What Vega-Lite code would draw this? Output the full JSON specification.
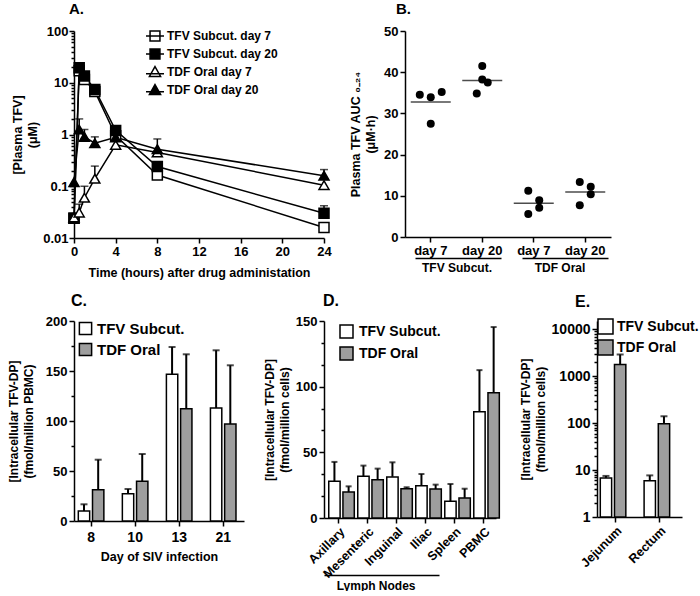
{
  "$schema": "https://vega.github.io/schema/vega-lite/v6.json",
  "padding": {"left": 7, "top": 2, "right": 0, "bottom": 0},
  "config": {
    "font": "Liberation Sans",
    "view": {"stroke": null},
    "axis": {"grid": false, "domainColor": "black", "tickColor": "black", "labelColor": "black", "titleColor": "black", "labelFontWeight": "bold", "titleFontWeight": "bold", "domainWidth": 1.5, "tickWidth": 1.5, "labelFontSize": 13, "titleFontSize": 12.5, "tickSize": 5, "labelPadding": 2, "labelFont": "Liberation Sans", "titleFont": "Liberation Sans", "labelOverlap": false, "labelBound": false, "titleLineHeight": 15},
    "legend": {"labelFontWeight": "bold", "labelColor": "black", "labelFont": "Liberation Sans"},
    "title": {"fontWeight": "bold", "anchor": "start", "frame": "group", "color": "black", "font": "Liberation Sans"}
  },
  "spacing": 14,
  "resolve": {"scale": {"fill": "independent", "shape": "independent"}, "legend": {"fill": "independent", "shape": "independent"}},
  "vconcat": [
    {
      "spacing": 17,
      "resolve": {"scale": {"fill": "independent", "shape": "independent"}, "legend": {"fill": "independent", "shape": "independent"}},
      "hconcat": [
        {
          "width": 250, "height": 207,
          "title": {"text": "A.", "fontSize": 15, "dx": -5, "offset": 8},
          "data": {"values": [
            {"series": "TFV Subcut. day 7", "t": 0, "v": 0.024},
            {"series": "TFV Subcut. day 7", "t": 0.5, "v": 17},
            {"series": "TFV Subcut. day 7", "t": 1, "v": 11.5},
            {"series": "TFV Subcut. day 7", "t": 2, "v": 6.8},
            {"series": "TFV Subcut. day 7", "t": 4, "v": 0.95},
            {"series": "TFV Subcut. day 7", "t": 8, "v": 0.165},
            {"series": "TFV Subcut. day 7", "t": 24, "v": 0.016},
            {"series": "TFV Subcut. day 20", "t": 0, "v": 0.024},
            {"series": "TFV Subcut. day 20", "t": 0.5, "v": 19.5},
            {"series": "TFV Subcut. day 20", "t": 1, "v": 13.5},
            {"series": "TFV Subcut. day 20", "t": 2, "v": 7.4},
            {"series": "TFV Subcut. day 20", "t": 4, "v": 1.2, "hi": 1.4},
            {"series": "TFV Subcut. day 20", "t": 8, "v": 0.24, "hi": 0.28},
            {"series": "TFV Subcut. day 20", "t": 24, "v": 0.03, "hi": 0.042},
            {"series": "TDF Oral day 7", "t": 0, "v": 0.025},
            {"series": "TDF Oral day 7", "t": 0.5, "v": 0.031, "hi": 0.045},
            {"series": "TDF Oral day 7", "t": 1, "v": 0.06, "hi": 0.1},
            {"series": "TDF Oral day 7", "t": 2, "v": 0.14, "hi": 0.245},
            {"series": "TDF Oral day 7", "t": 4, "v": 0.63},
            {"series": "TDF Oral day 7", "t": 8, "v": 0.45},
            {"series": "TDF Oral day 7", "t": 24, "v": 0.105},
            {"series": "TDF Oral day 20", "t": 0, "v": 0.12},
            {"series": "TDF Oral day 20", "t": 0.5, "v": 1.25, "hi": 2.0},
            {"series": "TDF Oral day 20", "t": 1, "v": 0.9, "hi": 1.25},
            {"series": "TDF Oral day 20", "t": 2, "v": 0.68, "hi": 0.9},
            {"series": "TDF Oral day 20", "t": 4, "v": 0.88},
            {"series": "TDF Oral day 20", "t": 8, "v": 0.52, "hi": 0.82},
            {"series": "TDF Oral day 20", "t": 24, "v": 0.16, "hi": 0.21}
          ]},
          "encoding": {
            "x": {"field": "t", "type": "quantitative", "scale": {"domain": [0, 24], "nice": false}, "axis": {"values": [0, 4, 8, 12, 16, 20, 24], "title": "Time (hours) after drug administation", "titlePadding": 8, "labelFlush": false}},
            "y": {"field": "v", "type": "quantitative", "scale": {"type": "log", "domain": [0.01, 100], "nice": false},
              "axis": {"values": [0.01,0.02,0.03,0.04,0.05,0.06,0.07,0.08,0.09,0.1,0.2,0.3,0.4,0.5,0.6,0.7,0.8,0.9,1,2,3,4,5,6,7,8,9,10,20,30,40,50,60,70,80,90,100],
                "format": "~g",
                "labelExpr": "abs(log(datum.value)/LN10 - round(log(datum.value)/LN10)) < 0.001 ? datum.label : ''",
                "tickSize": {"condition": {"test": "abs(log(datum.value)/LN10 - round(log(datum.value)/LN10)) < 0.001", "value": 5}, "value": 3},
                "title": ["[Plasma TFV]", "(μM)"], "titlePadding": 3, "labelPadding": 1}}
          },
          "layer": [
            {"mark": {"type": "line", "color": "black", "strokeWidth": 1.5}, "encoding": {"detail": {"field": "series"}}},
            {"transform": [{"filter": "isValid(datum.hi)"}], "mark": {"type": "rule", "color": "black", "strokeWidth": 1.5}, "encoding": {"y2": {"field": "hi"}}},
            {"transform": [{"filter": "isValid(datum.hi)"}], "mark": {"type": "tick", "orient": "horizontal", "color": "black", "size": 8, "thickness": 1.5}, "encoding": {"y": {"field": "hi", "type": "quantitative"}}},
            {"mark": {"type": "point", "size": 100, "stroke": "black", "strokeWidth": 1.5, "opacity": 1},
              "encoding": {
                "shape": {"field": "series", "type": "nominal", "scale": {"domain": ["TFV Subcut. day 7", "TFV Subcut. day 20", "TDF Oral day 7", "TDF Oral day 20"], "range": ["square", "square", "triangle-up", "triangle-up"]}, "legend": null},
                "fill": {"field": "series", "type": "nominal", "scale": {"domain": ["TFV Subcut. day 7", "TFV Subcut. day 20", "TDF Oral day 7", "TDF Oral day 20"], "range": ["white", "black", "white", "black"]}, "legend": null}
              }},
            {"transform": [{"filter": "false"}],
              "mark": {"type": "point", "size": 324, "stroke": "black", "strokeWidth": 1.5, "opacity": 1},
              "encoding": {
                "shape": {"field": "series", "type": "nominal", "scale": {"domain": ["TFV Subcut. day 7", "TFV Subcut. day 20", "TDF Oral day 7", "TDF Oral day 20"], "range": ["M-1,0H1M-0.55,-0.55H0.55V0.55H-0.55Z", "M-1,0H1M-0.55,-0.55H0.55V0.55H-0.55Z", "M-1,0.2H1M0,-0.6L0.62,0.5H-0.62Z", "M-1,0.2H1M0,-0.6L0.62,0.5H-0.62Z"]},
                  "legend": {"title": null, "orient": "none", "legendX": 71, "legendY": -5, "labelFontSize": 12, "symbolSize": 324, "symbolStrokeWidth": 1.5, "rowPadding": 0, "labelOffset": 2}},
                "fill": {"field": "series", "type": "nominal", "scale": {"domain": ["TFV Subcut. day 7", "TFV Subcut. day 20", "TDF Oral day 7", "TDF Oral day 20"], "range": ["white", "black", "white", "black"]},
                  "legend": {"title": null, "orient": "none", "legendX": 71, "legendY": -5, "labelFontSize": 12, "symbolSize": 324, "symbolStrokeWidth": 1.5, "rowPadding": 0, "labelOffset": 2}}
              }}
          ],
          "resolve": {"scale": {"shape": "independent", "fill": "independent"}, "legend": {"shape": "independent", "fill": "independent"}}
        },
        {
          "width": 206, "height": 206,
          "title": {"text": "B.", "fontSize": 15, "dx": -9, "offset": 8},
          "data": {"values": [
            {"cond": "TFV Subcut.|day 7", "grp": "TFV Subcut.", "auc": 34.5, "col": -2},
            {"cond": "TFV Subcut.|day 7", "grp": "TFV Subcut.", "auc": 33.95, "col": 0},
            {"cond": "TFV Subcut.|day 7", "grp": "TFV Subcut.", "auc": 35.2, "col": 2},
            {"cond": "TFV Subcut.|day 7", "grp": "TFV Subcut.", "auc": 27.5, "col": 0},
            {"cond": "TFV Subcut.|day 20", "grp": "TFV Subcut.", "auc": 41.5, "col": 0},
            {"cond": "TFV Subcut.|day 20", "grp": "TFV Subcut.", "auc": 38.2, "col": 0},
            {"cond": "TFV Subcut.|day 20", "grp": "TFV Subcut.", "auc": 37.5, "col": 1},
            {"cond": "TFV Subcut.|day 20", "grp": "TFV Subcut.", "auc": 34.8, "col": -1},
            {"cond": "TDF Oral|day 7", "grp": "TDF Oral", "auc": 11.2, "col": -1},
            {"cond": "TDF Oral|day 7", "grp": "TDF Oral", "auc": 8.9, "col": 1},
            {"cond": "TDF Oral|day 7", "grp": "TDF Oral", "auc": 7.1, "col": 1},
            {"cond": "TDF Oral|day 7", "grp": "TDF Oral", "auc": 5.6, "col": -1},
            {"cond": "TDF Oral|day 20", "grp": "TDF Oral", "auc": 13.35, "col": -1},
            {"cond": "TDF Oral|day 20", "grp": "TDF Oral", "auc": 12.2, "col": 1},
            {"cond": "TDF Oral|day 20", "grp": "TDF Oral", "auc": 10.4, "col": 1},
            {"cond": "TDF Oral|day 20", "grp": "TDF Oral", "auc": 7.7, "col": -1}
          ]},
          "layer": [
            {"mark": {"type": "circle", "size": 64, "color": "black", "opacity": 1},
              "encoding": {
                "x": {"field": "cond", "type": "nominal", "sort": null, "scale": {"domain": ["TFV Subcut.|day 7", "TFV Subcut.|day 20", "TDF Oral|day 7", "TDF Oral|day 20"], "paddingInner": 0, "paddingOuter": 0},
                  "axis": {"labelExpr": "split(datum.value, '|')[1]", "labelAngle": 0, "title": null, "labelPadding": 2}},
                "xOffset": {"field": "col", "type": "quantitative", "scale": {"domain": [-4.7, 4.7], "nice": false, "zero": false}},
                "y": {"field": "auc", "type": "quantitative", "scale": {"domain": [0, 50], "nice": false},
                  "axis": {"values": [0, 10, 20, 30, 40, 50], "title": ["Plasma TFV AUC ₀₋₂₄", "(μM·h)"], "titlePadding": 6}}
              }},
            {"transform": [{"aggregate": [{"op": "mean", "field": "auc", "as": "auc"}], "groupby": ["cond"]}],
              "mark": {"type": "tick", "orient": "horizontal", "color": "black", "size": 40, "thickness": 1.5},
              "encoding": {
                "x": {"field": "cond", "type": "nominal", "sort": null, "scale": {"domain": ["TFV Subcut.|day 7", "TFV Subcut.|day 20", "TDF Oral|day 7", "TDF Oral|day 20"], "paddingInner": 0, "paddingOuter": 0}, "axis": null},
                "y": {"field": "auc", "type": "quantitative"}
              }},
            {"mark": {"type": "point", "opacity": 0},
              "encoding": {
                "x": {"field": "grp", "type": "nominal", "sort": null, "scale": {"domain": ["TFV Subcut.", "TDF Oral"], "paddingInner": 0, "paddingOuter": 0},
                  "axis": {"orient": "bottom", "offset": 21, "ticks": false, "labelAngle": 0, "title": null, "domainDash": [86, 21], "domainDashOffset": 97, "labelFontSize": 12, "labelPadding": 4}},
                "y": {"field": "auc", "type": "quantitative"}
              }}
          ],
          "resolve": {"scale": {"x": "independent"}, "axis": {"x": "independent"}}
        }
      ]
    },
    {
      "spacing": 19,
      "resolve": {"scale": {"fill": "independent"}, "legend": {"fill": "independent"}},
      "hconcat": [
        {
          "width": 170, "height": 200,
          "title": {"text": "C.", "fontSize": 16, "dx": -3, "offset": 6},
          "data": {"values": [
            {"day": "8", "drug": "TFV Subcut.", "v": 10, "hi": 16.7},
            {"day": "8", "drug": "TDF Oral", "v": 31.3, "hi": 61.3},
            {"day": "10", "drug": "TFV Subcut.", "v": 27.3, "hi": 32},
            {"day": "10", "drug": "TDF Oral", "v": 39.7, "hi": 67},
            {"day": "13", "drug": "TFV Subcut.", "v": 146.7, "hi": 174},
            {"day": "13", "drug": "TDF Oral", "v": 112.3, "hi": 166.7},
            {"day": "21", "drug": "TFV Subcut.", "v": 113, "hi": 170.7},
            {"day": "21", "drug": "TDF Oral", "v": 97, "hi": 155.7}
          ]},
          "encoding": {
            "x": {"field": "day", "type": "nominal", "sort": ["8", "10", "13", "21"], "scale": {"paddingInner": 0.42, "paddingOuter": 0.14, "align": 0.35}, "axis": {"labelAngle": 0, "title": "Day of SIV infection", "labelFontSize": 14, "labelPadding": 4, "titlePadding": 6}},
            "xOffset": {"field": "drug", "type": "nominal", "sort": ["TFV Subcut.", "TDF Oral"], "scale": {"paddingInner": 0.2}},
            "y": {"field": "v", "type": "quantitative", "scale": {"domain": [0, 200], "nice": false},
              "axis": {"values": [0, 25, 50, 75, 100, 125, 150, 175, 200], "labelExpr": "datum.value % 50 == 0 ? datum.label : ''",
                "tickSize": {"condition": {"test": "datum.value % 50 == 0", "value": 5}, "value": 3},
                "title": ["[Intracellular TFV-DP]", "(fmol/million PBMC)"], "titleFontSize": 12, "titlePadding": 10}}
          },
          "layer": [
            {"mark": {"type": "rule", "color": "black", "strokeWidth": 2}, "encoding": {"y2": {"field": "hi"}}},
            {"mark": {"type": "tick", "orient": "horizontal", "color": "black", "size": 7, "thickness": 2}, "encoding": {"y": {"field": "hi", "type": "quantitative"}}},
            {"mark": {"type": "bar", "stroke": "black", "strokeWidth": 1.5},
              "encoding": {"fill": {"field": "drug", "type": "nominal", "scale": {"domain": ["TFV Subcut.", "TDF Oral"], "range": ["white", "#9e9e9e"]},
                "legend": {"title": null, "orient": "none", "legendX": 4, "legendY": 0, "labelFontSize": 15, "symbolType": "square", "symbolSize": 150, "symbolStrokeColor": "black", "symbolStrokeWidth": 1.5, "rowPadding": 2, "labelOffset": 4}}}}
          ]
        },
        {
          "spacing": 18,
          "resolve": {"scale": {"fill": "independent"}, "legend": {"fill": "independent"}},
          "hconcat": [
            {
              "width": 172, "height": 197,
              "title": {"text": "D.", "fontSize": 16, "dx": -1, "offset": 6},
              "data": {"values": [
                {"site": "Axillary", "drug": "TFV Subcut.", "v": 27.9, "hi": 42.7},
                {"site": "Axillary", "drug": "TDF Oral", "v": 19.8, "hi": 24.1},
                {"site": "Mesenteric", "drug": "TFV Subcut.", "v": 31.7, "hi": 39.9},
                {"site": "Mesenteric", "drug": "TDF Oral", "v": 29.2, "hi": 37.6},
                {"site": "Inguinal", "drug": "TFV Subcut.", "v": 31.3, "hi": 42.4},
                {"site": "Inguinal", "drug": "TDF Oral", "v": 22.3, "hi": 23.4},
                {"site": "Iliac", "drug": "TFV Subcut.", "v": 24.6, "hi": 33.5},
                {"site": "Iliac", "drug": "TDF Oral", "v": 22.1, "hi": 25.4},
                {"site": "Spleen", "drug": "TFV Subcut.", "v": 12.7, "hi": 25.9},
                {"site": "Spleen", "drug": "TDF Oral", "v": 15.3, "hi": 22.3},
                {"site": "PBMC", "drug": "TFV Subcut.", "v": 80.9, "hi": 112.6},
                {"site": "PBMC", "drug": "TDF Oral", "v": 95.3, "hi": 145.4}
              ]},
              "encoding": {
                "y": {"field": "v", "type": "quantitative", "scale": {"domain": [0, 150], "nice": false},
                  "axis": {"values": [0, 16.667, 33.333, 50, 66.667, 83.333, 100, 116.667, 133.333, 150], "labelExpr": "datum.value % 50 == 0 ? datum.label : ''",
                    "tickSize": {"condition": {"test": "datum.value % 50 == 0", "value": 5}, "value": 3},
                    "title": ["[Intracellular TFV-DP]", "(fmol/million cells)"], "titleFontSize": 12, "titlePadding": 4}}
              },
              "layer": [
                {
                  "encoding": {
                    "x": {"field": "site", "type": "nominal", "sort": ["Axillary", "Mesenteric", "Inguinal", "Iliac", "Spleen", "PBMC"], "scale": {"paddingInner": 0.33, "paddingOuter": 0.13, "align": 0.63}, "axis": {"labelAngle": -45, "title": null, "labelFontSize": 12.5, "labelPadding": 2}},
                    "xOffset": {"field": "drug", "type": "nominal", "sort": ["TFV Subcut.", "TDF Oral"], "scale": {"paddingInner": 0.1}}
                  },
                  "layer": [
                    {"mark": {"type": "rule", "color": "black", "strokeWidth": 2}, "encoding": {"y2": {"field": "hi"}}},
                    {"mark": {"type": "tick", "orient": "horizontal", "color": "black", "size": 6, "thickness": 2}, "encoding": {"y": {"field": "hi", "type": "quantitative"}}},
                    {"mark": {"type": "bar", "stroke": "black", "strokeWidth": 1.5},
                      "encoding": {"fill": {"field": "drug", "type": "nominal", "scale": {"domain": ["TFV Subcut.", "TDF Oral"], "range": ["white", "#9e9e9e"]},
                        "legend": {"title": null, "orient": "none", "legendX": 15, "legendY": 3, "labelFontSize": 14, "symbolType": "square", "symbolSize": 169, "symbolStrokeColor": "black", "symbolStrokeWidth": 1.5, "rowPadding": 3, "labelOffset": 5}}}}
                  ]
                },
                {"mark": {"type": "point", "opacity": 0},
                  "encoding": {
                    "x": {"datum": 0.3, "type": "quantitative", "scale": {"domain": [0, 1], "nice": false, "zero": false},
                      "axis": {"orient": "bottom", "offset": 57, "values": [0.3], "labelExpr": "'Lymph Nodes'", "ticks": false, "title": null, "domainDash": [115, 300], "labelPadding": 5, "labelFontSize": 12, "labelAngle": 0}}
                  }}
              ],
              "resolve": {"scale": {"x": "independent"}, "axis": {"x": "independent"}}
            },
            {
              "width": 85, "height": 196,
              "title": {"text": "E.", "fontSize": 16, "dx": -22, "offset": 8},
              "data": {"values": [
                {"tissue": "Jejunum", "drug": "TFV Subcut.", "v": 6.8, "hi": 7.5},
                {"tissue": "Jejunum", "drug": "TDF Oral", "v": 1770, "hi": 2900},
                {"tissue": "Rectum", "drug": "TFV Subcut.", "v": 5.9, "hi": 7.7},
                {"tissue": "Rectum", "drug": "TDF Oral", "v": 97, "hi": 140}
              ]},
              "encoding": {
                "x": {"field": "tissue", "type": "nominal", "sort": ["Jejunum", "Rectum"], "scale": {"paddingInner": 0.31, "paddingOuter": 0.125, "align": 0.3}, "axis": {"labelAngle": -45, "title": null, "labelFontSize": 12.5, "labelPadding": 2}},
                "xOffset": {"field": "drug", "type": "nominal", "sort": ["TFV Subcut.", "TDF Oral"], "scale": {"paddingInner": 0.3}},
                "y": {"field": "v", "type": "quantitative", "scale": {"type": "log", "domain": [1, 15000], "nice": false},
                  "axis": {"values": [1,2,3,4,5,6,7,8,9,10,20,30,40,50,60,70,80,90,100,200,300,400,500,600,700,800,900,1000,2000,3000,4000,5000,6000,7000,8000,9000,10000],
                    "format": "~g",
                    "labelExpr": "abs(log(datum.value)/LN10 - round(log(datum.value)/LN10)) < 0.001 ? datum.label : ''",
                    "tickSize": {"condition": {"test": "abs(log(datum.value)/LN10 - round(log(datum.value)/LN10)) < 0.001", "value": 5}, "value": 3},
                    "labelFontSize": 14,
                    "title": ["[Intracellular TFV-DP]", "(fmol/million cells)"], "titleFontSize": 12, "titlePadding": 4}}
              },
              "layer": [
                {"mark": {"type": "rule", "color": "black", "strokeWidth": 2}, "encoding": {"y2": {"field": "hi"}}},
                {"mark": {"type": "tick", "orient": "horizontal", "color": "black", "size": 7, "thickness": 2}, "encoding": {"y": {"field": "hi", "type": "quantitative"}}},
                {"mark": {"type": "bar", "stroke": "black", "strokeWidth": 1.5},
                  "encoding": {"y2": {"datum": 1},
                    "fill": {"field": "drug", "type": "nominal", "scale": {"domain": ["TFV Subcut.", "TDF Oral"], "range": ["white", "#9e9e9e"]},
                    "legend": {"title": null, "orient": "none", "legendX": 0, "legendY": -3, "labelFontSize": 14, "symbolType": "square", "symbolSize": 225, "symbolStrokeColor": "black", "symbolStrokeWidth": 1.5, "rowPadding": 0, "labelOffset": 3}}}}
              ]
            }
          ]
        }
      ]
    }
  ]
}
